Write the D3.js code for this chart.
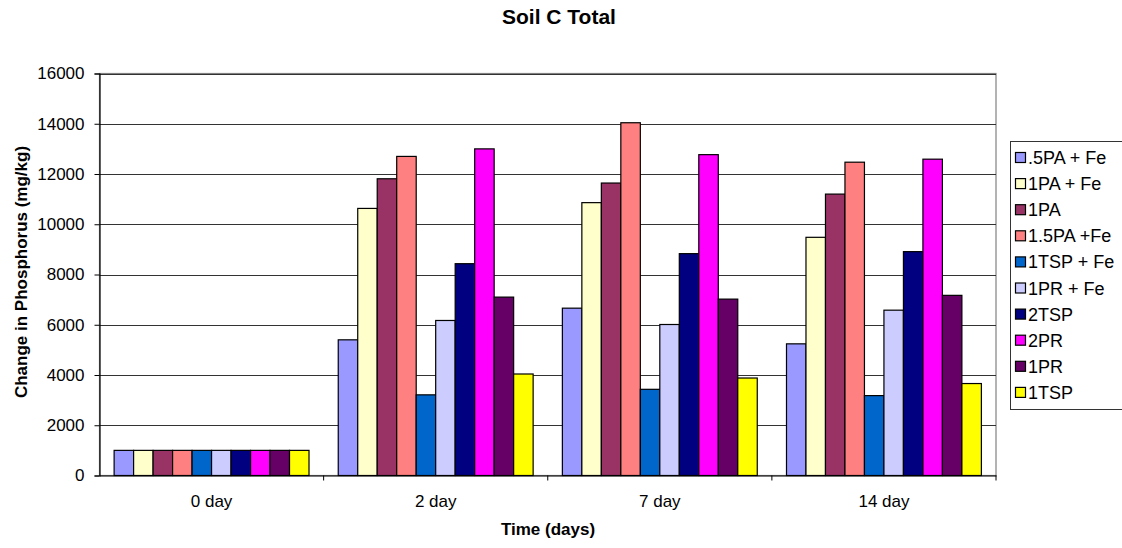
<!DOCTYPE html>
<html>
<head>
<meta charset="utf-8">
<script src="https://cdn.jsdelivr.net/npm/d3@7"></script>
<style>
  html, body { margin: 0; padding: 0; background: #fff; }
  svg { display: block; font-family: Arial, "Liberation Sans", sans-serif; }
</style>
</head>
<body>
<svg id="chart" width="1122" height="548"></svg>
<script>
const categories = ["0 day", "2 day", "7 day", "14 day"];
const seriesNames = [".5PA + Fe", "1PA + Fe", "1PA", "1.5PA +Fe", "1TSP + Fe", "1PR + Fe", "2TSP", "2PR", "1PR", "1TSP"];
const seriesColors = ["#9999FF", "#FFFFCC", "#993366", "#FF8080", "#0066CC", "#CCCCFF", "#000080", "#FF00FF", "#660066", "#FFFF00"];
// values per series, one per category
const s_05PA_Fe  = [1000, 5400, 6660, 5240];
const s_1PA_Fe   = [1000, 10630, 10860, 9480];
const s_1PA      = [1000, 11810, 11640, 11200];
const s_15PA_Fe  = [1000, 12700, 14040, 12470];
const s_1TSP_Fe  = [1000, 3210, 3430, 3180];
const s_1PR_Fe   = [1000, 6170, 6010, 6580];
const s_2TSP     = [1000, 8430, 8830, 8910];
const s_2PR      = [1000, 13000, 12770, 12590];
const s_1PR      = [1000, 7100, 7020, 7170];
const s_1TSP     = [1000, 4040, 3880, 3660];
const seriesValues = [s_05PA_Fe, s_1PA_Fe, s_1PA, s_15PA_Fe, s_1TSP_Fe, s_1PR_Fe, s_2TSP, s_2PR, s_1PR, s_1TSP];
const yTicks = [0, 2000, 4000, 6000, 8000, 10000, 12000, 14000, 16000];

const svg = d3.select("#chart");
const L = 99.5, R = 996, T = 73.5, B = 475.5;

const x0 = d3.scaleBand().domain(categories).range([L, R]).paddingInner(0).paddingOuter(0);
const x1 = d3.scaleBand().domain(seriesNames).range([0, x0.bandwidth()]).paddingInner(0).paddingOuter(0.75);
const y = d3.scaleLinear().domain([0, 16000]).range([B, T]);
const color = d3.scaleOrdinal().domain(seriesNames).range(seriesColors);

// title
svg.append("text").attr("x", 559).attr("y", 23.5).attr("text-anchor", "middle")
  .style("font-weight", "bold").style("font-size", "21px").text("Soil C Total");

// plot area border
svg.append("rect").attr("x", L).attr("y", T).attr("width", R - L).attr("height", B - T)
  .attr("fill", "none").attr("stroke", "#808080").attr("stroke-width", 1.2);

// gridlines
svg.append("g").selectAll("line").data(yTicks.filter(d => d > 0)).join("line")
  .attr("x1", L).attr("x2", R)
  .attr("y1", d => Math.round(y(d)) + 0.5).attr("y2", d => Math.round(y(d)) + 0.5)
  .attr("stroke", "#333").attr("stroke-width", 1.2);

// bars
const data = [];
categories.forEach((c, ci) => {
  seriesNames.forEach((s, si) => data.push({c, s, v: seriesValues[si][ci]}));
});
svg.append("g").selectAll("rect").data(data).join("rect")
  .attr("x", d => x0(d.c) + x1(d.s))
  .attr("y", d => y(d.v))
  .attr("width", x1.bandwidth())
  .attr("height", d => B - y(d.v))
  .attr("fill", d => color(d.s))
  .attr("stroke", "#000").attr("stroke-width", 1.2);

// y axis
const yAxis = d3.axisLeft(y).tickValues(yTicks).tickSize(5).tickPadding(10).tickFormat(d3.format("d"));
const gy = svg.append("g").attr("transform", `translate(${L},0)`).call(yAxis);
gy.select(".domain").attr("stroke", "#000").attr("stroke-width", 1.2);
gy.selectAll(".tick line").attr("stroke", "#000");
gy.selectAll(".tick text").style("font-size", "17px").attr("fill", "#000").style("font-family", "Arial, 'Liberation Sans', sans-serif");

// x axis
const xAxis = d3.axisBottom(x0).tickSize(0).tickPadding(19);
const gx = svg.append("g").attr("transform", `translate(0,${B})`).call(xAxis);
gx.select(".domain").attr("stroke", "#000").attr("stroke-width", 1.2);
gx.selectAll(".tick text").style("font-size", "17px").attr("fill", "#000").style("font-family", "Arial, 'Liberation Sans', sans-serif");
// category boundary ticks
svg.append("g").selectAll("line").data(categories.slice(1).concat(["__end"])).join("line")
  .attr("x1", (d, i) => i < 3 ? x0(d) : R).attr("x2", (d, i) => i < 3 ? x0(d) : R)
  .attr("y1", B).attr("y2", B + 5).attr("stroke", "#000");

// axis titles
svg.append("text").attr("x", 548).attr("y", 535).attr("text-anchor", "middle")
  .style("font-weight", "bold").style("font-size", "17px").text("Time (days)");
svg.append("text").attr("transform", "translate(27,272) rotate(-90)").attr("text-anchor", "middle")
  .style("font-weight", "bold").style("font-size", "17px").text("Change in Phosphorus (mg/kg)");

// legend
const lg = svg.append("g");
lg.append("rect").attr("x", 1010.5).attr("y", 141.5).attr("width", 130).attr("height", 268)
  .attr("fill", "#fff").attr("stroke", "#333").attr("stroke-width", 1);
const items = lg.selectAll("g.item").data(seriesNames).join("g").attr("class", "item")
  .attr("transform", (d, i) => `translate(1015.5, ${157.5 + i * 26.1})`);
items.append("rect").attr("x", 0).attr("y", -5).attr("width", 10).attr("height", 10)
  .attr("fill", d => color(d)).attr("stroke", "#000").attr("stroke-width", 1.2);
items.append("text").attr("x", 12.5).attr("y", 6.5).style("font-size", "18px").text(d => d);
</script>
</body>
</html>
